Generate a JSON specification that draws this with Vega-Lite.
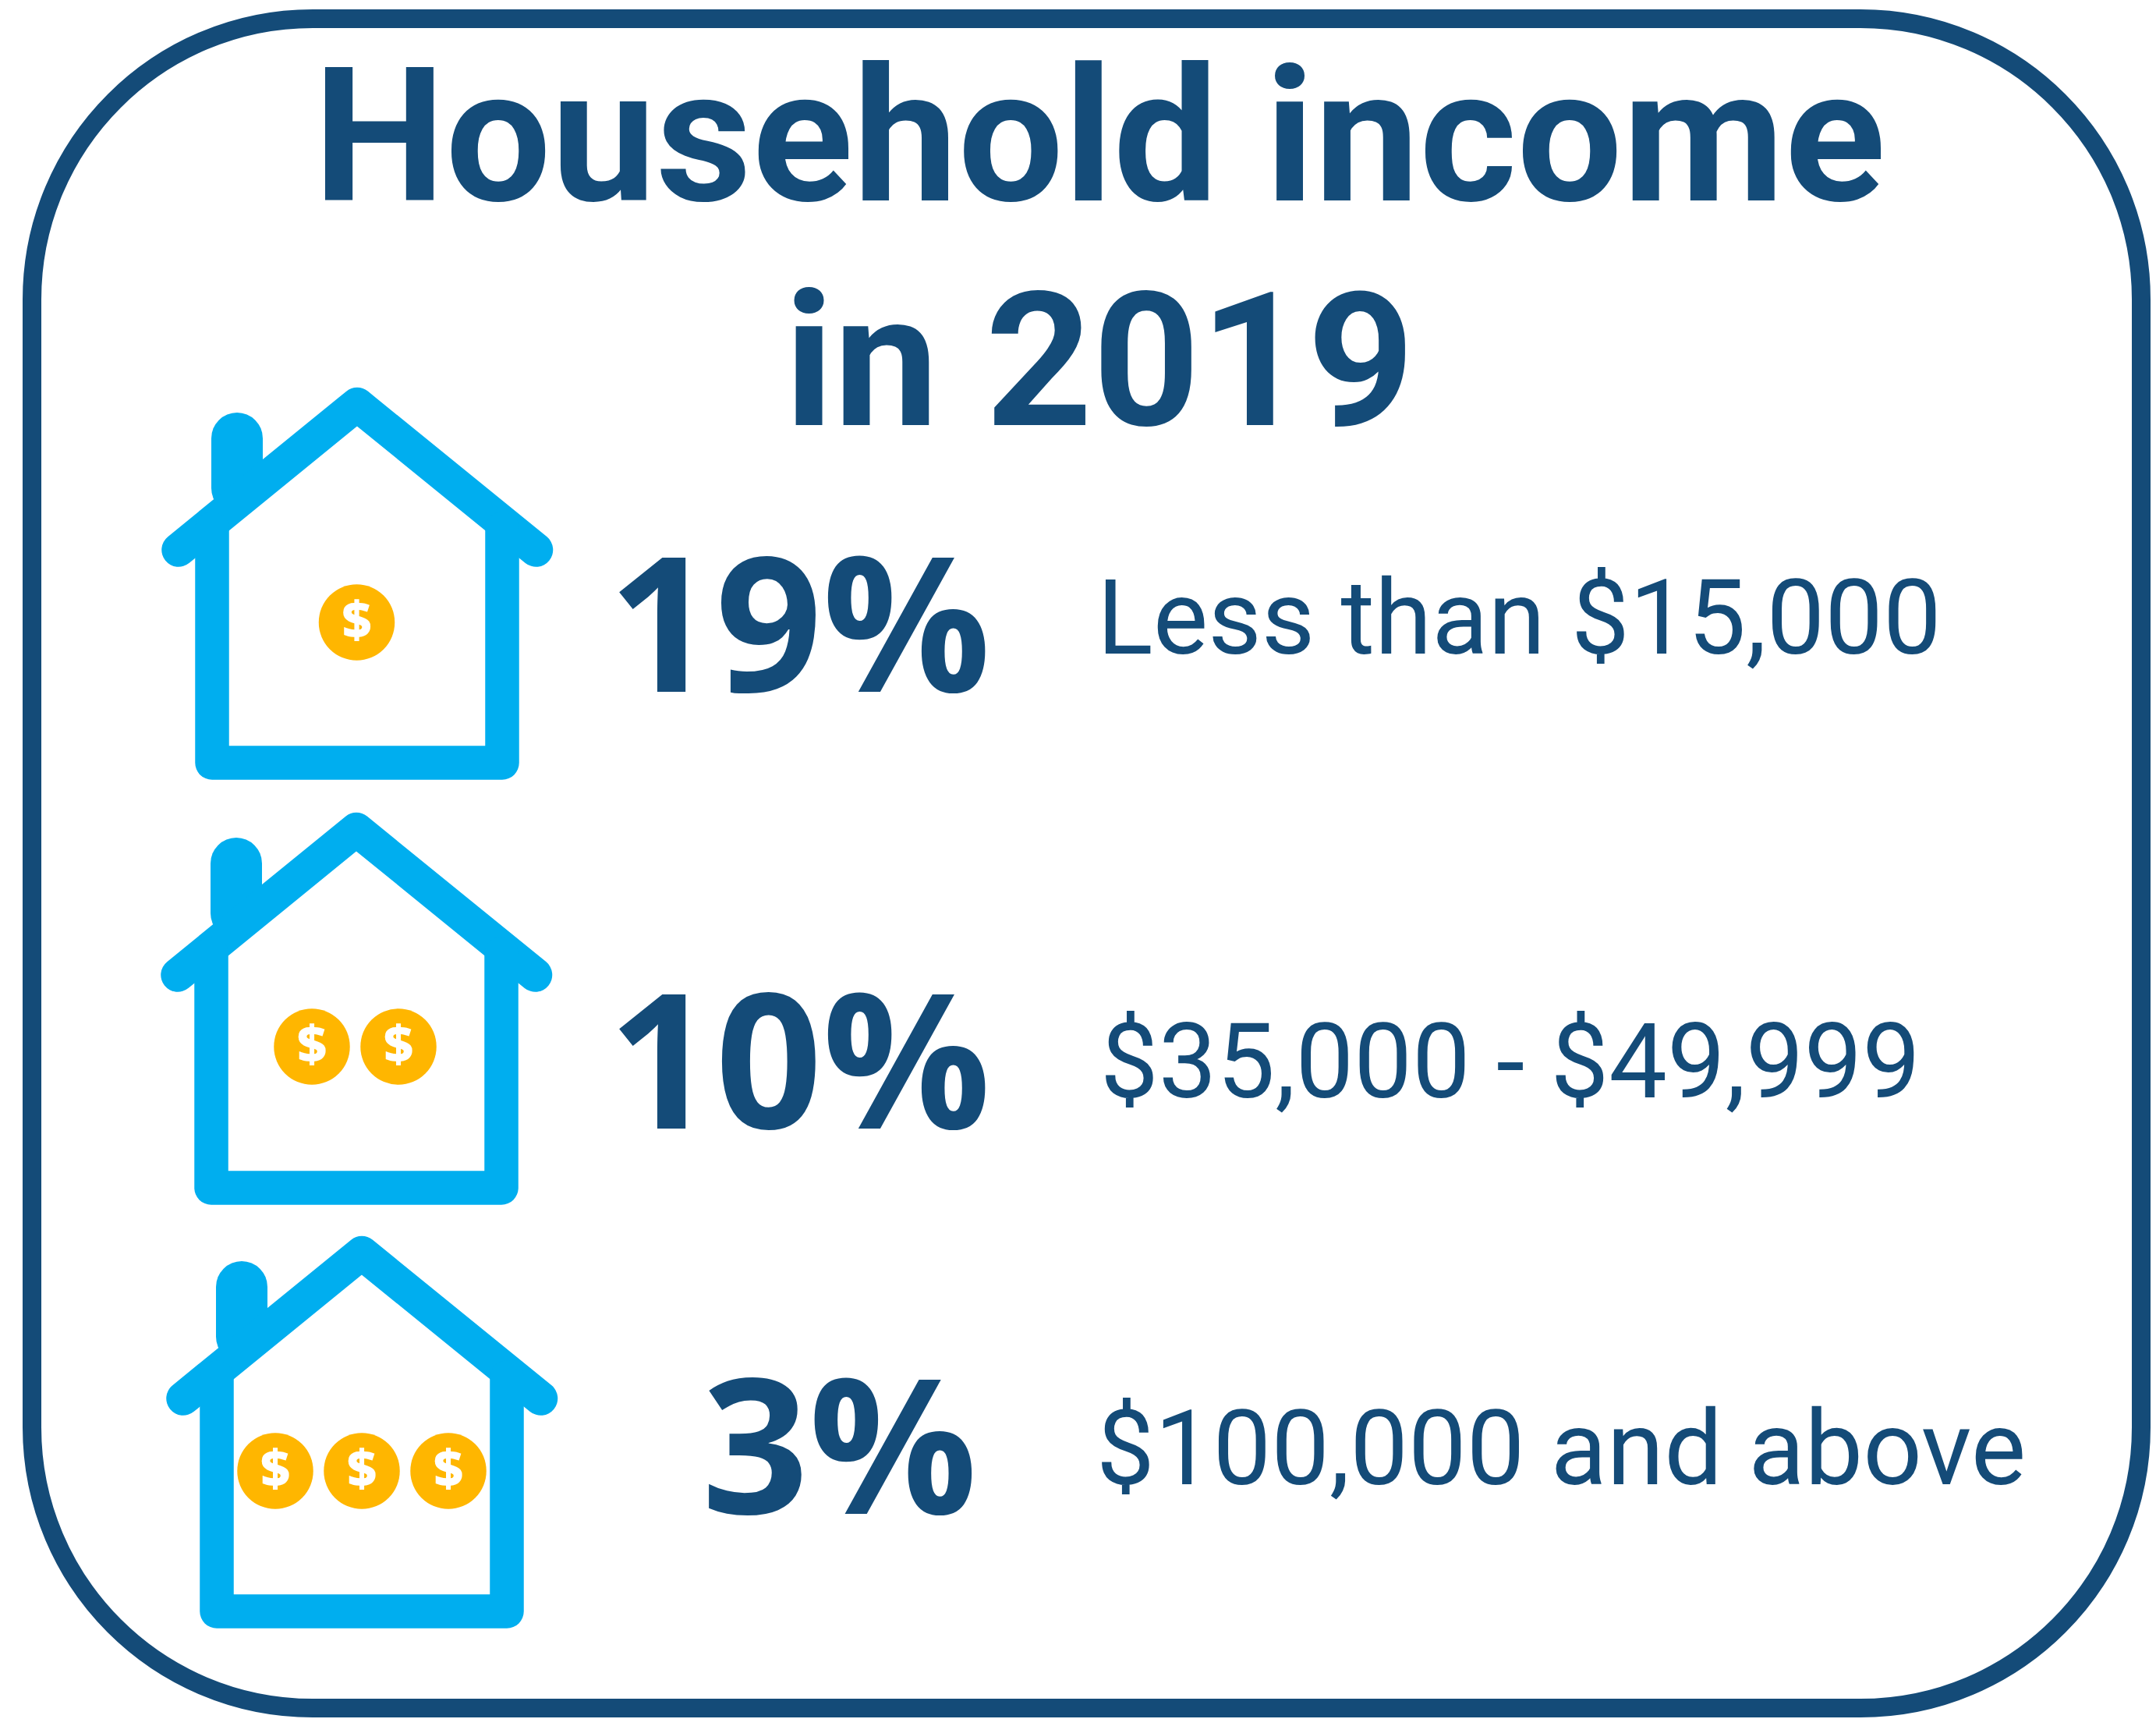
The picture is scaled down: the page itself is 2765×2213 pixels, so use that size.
{"$schema":"https://vega.github.io/schema/vega-lite/v6.json","width":2765,"height":2213,"padding":0,"autosize":{"type":"fit","contains":"padding"},"background":"white","config":{"view":{"stroke":null}},
"datasets":{
"frame":[{"x0":41,"x1":2746,"y0":24,"y1":2190}],
"house":[
{"part":"h1-roof","seq":1,"x":229,"y":705},{"part":"h1-roof","seq":2,"x":458,"y":518.5},{"part":"h1-roof","seq":3,"x":687.5,"y":705},
{"part":"h1-walls","seq":1,"x":272,"y":678},{"part":"h1-walls","seq":2,"x":272,"y":978},{"part":"h1-walls","seq":3,"x":644,"y":978},{"part":"h1-walls","seq":4,"x":644,"y":678},
{"part":"h2-roof","seq":1,"x":228,"y":1250},{"part":"h2-roof","seq":2,"x":457,"y":1063.5},{"part":"h2-roof","seq":3,"x":686.5,"y":1250},
{"part":"h2-walls","seq":1,"x":271,"y":1223},{"part":"h2-walls","seq":2,"x":271,"y":1523},{"part":"h2-walls","seq":3,"x":643,"y":1523},{"part":"h2-walls","seq":4,"x":643,"y":1223},
{"part":"h3-roof","seq":1,"x":235,"y":1793},{"part":"h3-roof","seq":2,"x":464,"y":1606.5},{"part":"h3-roof","seq":3,"x":693.5,"y":1793},
{"part":"h3-walls","seq":1,"x":278,"y":1766},{"part":"h3-walls","seq":2,"x":278,"y":2066},{"part":"h3-walls","seq":3,"x":650,"y":2066},{"part":"h3-walls","seq":4,"x":650,"y":1766}],
"chimney":[
{"part":"h1","seq":1,"x":304,"y":562},{"part":"h1","seq":2,"x":304,"y":626},
{"part":"h2","seq":1,"x":303,"y":1107},{"part":"h2","seq":2,"x":303,"y":1171},
{"part":"h3","seq":1,"x":310,"y":1650},{"part":"h3","seq":2,"x":310,"y":1714}],
"coins":[{"x":457.5,"y":798,"s":"$"},{"x":400,"y":1342,"s":"$"},{"x":511,"y":1342,"s":"$"},{"x":353,"y":1886,"s":"$"},{"x":464,"y":1886,"s":"$"},{"x":575,"y":1886,"s":"$"}],
"title":[{"x":1410,"y":257,"t":"Household income"},{"x":1410,"y":545,"t":"in 2019"}],
"pct":[{"x":780,"y":887,"t":"19%"},{"x":780,"y":1447,"t":"10%"},{"x":900,"y":1941,"t":"3%"}],
"labels":[{"x":1407,"y":838,"t":"Less than $15,000"},{"x":1411,"y":1407,"t":"$35,000 - $49,999"},{"x":1406,"y":1903,"t":"$100,000 and above"}]},
"encoding":{"x":{"type":"quantitative","scale":{"domain":[0,2765],"nice":false,"zero":false},"axis":null},"y":{"type":"quantitative","scale":{"domain":[0,2213],"nice":false,"zero":false,"reverse":true},"axis":null}},
"layer":[
{"data":{"name":"frame"},"mark":{"type":"rect","fill":null,"fillOpacity":0,"stroke":"#144B78","strokeWidth":24,"cornerRadius":360},"encoding":{"x":{"field":"x0","type":"quantitative","scale":{"domain":[0,2765],"nice":false,"zero":false},"axis":null},"x2":{"field":"x1"},"y":{"field":"y0","type":"quantitative","scale":{"domain":[0,2213],"nice":false,"zero":false,"reverse":true},"axis":null},"y2":{"field":"y1"}}},
{"data":{"name":"chimney"},"mark":{"type":"line","stroke":"#00AEEF","strokeWidth":66,"strokeCap":"round"},"encoding":{"x":{"field":"x","type":"quantitative"},"y":{"field":"y","type":"quantitative"},"detail":{"field":"part"},"order":{"field":"seq"}}},
{"data":{"name":"house"},"mark":{"type":"line","stroke":"#00AEEF","strokeWidth":43.5,"strokeCap":"round","strokeJoin":"round"},"encoding":{"x":{"field":"x","type":"quantitative"},"y":{"field":"y","type":"quantitative"},"detail":{"field":"part"},"order":{"field":"seq"}}},
{"data":{"name":"coins"},"mark":{"type":"point","filled":true,"shape":"circle","size":9500,"color":"#FFB600","opacity":1},"encoding":{"x":{"field":"x","type":"quantitative"},"y":{"field":"y","type":"quantitative"}}},
{"data":{"name":"coins"},"mark":{"type":"text","font":"Open Sans","fontWeight":800,"fontSize":66,"color":"white","align":"center","baseline":"middle"},"encoding":{"x":{"field":"x","type":"quantitative"},"y":{"field":"y","type":"quantitative"},"text":{"field":"s"}}},
{"data":{"name":"title"},"mark":{"type":"text","font":"Roboto","fontWeight":"bold","fontSize":240,"color":"#144B78","align":"center","baseline":"alphabetic"},"encoding":{"x":{"field":"x","type":"quantitative"},"y":{"field":"y","type":"quantitative"},"text":{"field":"t"}}},
{"data":{"name":"pct"},"mark":{"type":"text","font":"Open Sans","fontWeight":"bold","fontSize":240,"color":"#144B78","align":"left","baseline":"alphabetic"},"encoding":{"x":{"field":"x","type":"quantitative"},"y":{"field":"y","type":"quantitative"},"text":{"field":"t"}}},
{"data":{"name":"labels"},"mark":{"type":"text","font":"Roboto","fontSize":133,"color":"#144B78","align":"left","baseline":"alphabetic"},"encoding":{"x":{"field":"x","type":"quantitative"},"y":{"field":"y","type":"quantitative"},"text":{"field":"t"}}}
]}
